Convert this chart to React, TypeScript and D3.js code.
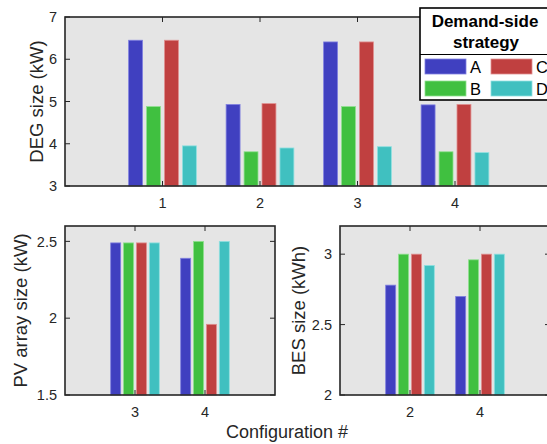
import React from "react";
import * as d3 from "d3";

const strategies = ["A", "B", "C", "D"];
const colors = ["#4040c0", "#40c040", "#c04040", "#40c0c0"];
const edgeColors = ["#8080e0", "#90e090", "#e09090", "#90e0e0"];

// Top: DEG size
const degConfigs = [1, 2, 3, 4];
const degA = [6.45, 4.93, 6.41, 4.92];
const degB = [4.88, 3.81, 4.88, 3.81];
const degC = [6.45, 4.95, 6.41, 4.93];
const degD = [3.95, 3.9, 3.93, 3.79];
const degTicksY = [3, 4, 5, 6, 7];

// Bottom-left: PV array size
const pvConfigs = [3, 4];
const pvA = [2.49, 2.39];
const pvB = [2.49, 2.5];
const pvC = [2.49, 1.96];
const pvD = [2.49, 2.5];
const pvTicksY = [1.5, 2, 2.5];

// Bottom-right: BES size
const besConfigs = ["2", "4"];
const besA = [2.78, 2.7];
const besB = [3.0, 2.96];
const besC = [3.0, 3.0];
const besD = [2.92, 3.0];
const besTicksY = [2, 2.5, 3];

const FONT = "'Liberation Sans', Arial, Helvetica, sans-serif";
const TXT = "#262626";
const BG = "#e5e5e5";

type PanelProps = {
  x0: number; x1: number; y0: number; y1: number;
  xDomain: [number, number]; yDomain: [number, number];
  xPos: number[]; xLabels: string[];
  series: number[][]; yTicks: number[];
  ylabel: string; ylabelX: number;
  barStep: number; barWidth: number;
};

function Panel(p: PanelProps) {
  const x = d3.scaleLinear().domain(p.xDomain).range([p.x0, p.x1]);
  const y = d3.scaleLinear().domain(p.yDomain).range([p.y1, p.y0]);
  const tickLen = 5;
  const fmt = (v: number) => String(v);
  return (
    <g>
      <rect x={p.x0} y={p.y0} width={p.x1 - p.x0} height={p.y1 - p.y0} fill={BG} />
      {p.series.map((vals, si) =>
        vals.map((v, ci) => {
          const cx = x(p.xPos[ci] + (si - 1.5) * p.barStep);
          const w = x(p.xDomain[0] + p.barWidth) - x(p.xDomain[0]);
          return (
            <rect
              key={`${si}-${ci}`}
              x={cx - w / 2}
              y={y(v)}
              width={w}
              height={y(p.yDomain[0]) - y(v)}
              fill={colors[si]}
              stroke={edgeColors[si]}
              strokeWidth={0.8}
            />
          );
        })
      )}
      {p.xPos.map((v, i) => (
        <g key={`xt${i}`}>
          <line x1={x(v)} x2={x(v)} y1={p.y1} y2={p.y1 - tickLen} stroke={TXT} strokeWidth={1} />
          <line x1={x(v)} x2={x(v)} y1={p.y0} y2={p.y0 + tickLen} stroke={TXT} strokeWidth={1} />
          <text x={x(v)} y={p.y1 + 22} textAnchor="middle" fontSize={14.5} fill={TXT} fontFamily={FONT}>
            {p.xLabels[i]}
          </text>
        </g>
      ))}
      {p.yTicks.map((v, i) => (
        <g key={`yt${i}`}>
          <line x1={p.x0} x2={p.x0 + tickLen} y1={y(v)} y2={y(v)} stroke={TXT} strokeWidth={1} />
          <line x1={p.x1} x2={p.x1 - tickLen} y1={y(v)} y2={y(v)} stroke={TXT} strokeWidth={1} />
          <text x={p.x0 - 8} y={y(v)} dy="0.36em" textAnchor="end" fontSize={14.5} fill={TXT} fontFamily={FONT}>
            {fmt(v)}
          </text>
        </g>
      ))}
      <rect x={p.x0} y={p.y0} width={p.x1 - p.x0} height={p.y1 - p.y0} fill="none" stroke={TXT} strokeWidth={1.6} />
      <text
        transform={`translate(${p.ylabelX},${(p.y0 + p.y1) / 2}) rotate(-90)`}
        textAnchor="middle"
        fontSize={18.5}
        fill={TXT}
        fontFamily={FONT}
      >
        {p.ylabel}
      </text>
    </g>
  );
}

export default function App() {
  const step = 0.184;
  const bw = 0.143;
  const legX = 420, legY = 8, legW = 132, legH = 92;
  return (
    <svg width={547} height={444} style={{ position: "absolute", left: 0, top: 0, background: "#fff" }}>
      <rect x={0} y={0} width={547} height={444} fill="#fff" />
      <Panel
        x0={65} x1={552.5} y0={17} y1={186}
        xDomain={[0, 5]} yDomain={[3, 7]}
        xPos={degConfigs} xLabels={degConfigs.map(String)}
        series={[degA, degB, degC, degD]} yTicks={degTicksY}
        ylabel="DEG size (kW)" ylabelX={43}
        barStep={step} barWidth={bw}
      />
      <Panel
        x0={65} x1={275} y0={226} y1={395}
        xDomain={[2, 5]} yDomain={[1.5, 2.6]}
        xPos={pvConfigs} xLabels={pvConfigs.map(String)}
        series={[pvA, pvB, pvC, pvD]} yTicks={pvTicksY}
        ylabel="PV array size (kW)" ylabelX={26.5}
        barStep={step} barWidth={bw}
      />
      <Panel
        x0={340} x1={550} y0={226} y1={395}
        xDomain={[0, 3]} yDomain={[2, 3.2]}
        xPos={besConfigs.map((_, i) => i + 1)} xLabels={besConfigs}
        series={[besA, besB, besC, besD]} yTicks={besTicksY}
        ylabel="BES size (kWh)" ylabelX={305}
        barStep={step} barWidth={bw}
      />
      <text x={287} y={438} textAnchor="middle" fontSize={18} fill={TXT} fontFamily={FONT}>
        Configuration #
      </text>
      <g>
        <rect x={legX} y={legY} width={legW} height={legH} fill="#fff" stroke="#000" strokeWidth={1.6} />
        <line x1={legX} x2={legX + legW} y1={54.5} y2={54.5} stroke="#000" strokeWidth={1.2} />
        <text x={485} y={27} textAnchor="middle" fontSize={17} fontWeight="bold" fill="#000" fontFamily={FONT}>
          Demand-side
        </text>
        <text x={486} y={47.5} textAnchor="middle" fontSize={17} fontWeight="bold" fill="#000" fontFamily={FONT}>
          strategy
        </text>
        {strategies.map((s, i) => {
          const col = i === 0 || i === 1 ? 0 : 1;
          const row = i === 0 || i === 2 ? 0 : 1;
          const sx = col === 0 ? 425 : 491;
          const sy = row === 0 ? 59 : 81;
          return (
            <g key={s}>
              <rect x={sx} y={sy} width={41} height={15} fill={colors[i]} stroke={edgeColors[i]} strokeWidth={0.8} />
              <text x={sx + 45} y={sy + 14} fontSize={16.5} fill="#000" fontFamily={FONT}>
                {s}
              </text>
            </g>
          );
        })}
      </g>
    </svg>
  );
}
